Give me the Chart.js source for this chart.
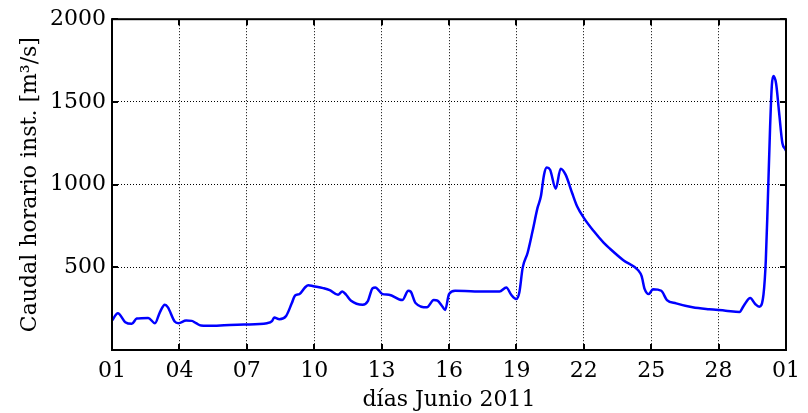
<!DOCTYPE html>
<html>
<head>
<meta charset="utf-8">
<title>Caudal horario instantáneo – Junio 2011</title>
<script src="https://cdn.jsdelivr.net/npm/chart.js@4.4.1/dist/chart.umd.min.js"></script>
<style>
  html, body { margin: 0; padding: 0; background: #fff; }
  #wrap { width: 808px; height: 413px; }
  canvas { display: block; }
</style>
</head>
<body>
<div id="wrap"><canvas id="chart" width="808" height="413"></canvas></div>
<script>
// Time in days since 1 June 2011 00:00, and instantaneous hourly flow (m3/s)
const days = [
  0.00, 0.26, 0.59, 0.88, 1.10, 1.61, 1.91, 2.13, 2.35, 2.49,
  2.79, 2.96, 3.30, 3.55, 3.74, 3.96, 4.55, 4.99, 5.87, 6.90,
  7.12, 7.22, 7.45, 7.75, 8.00, 8.15, 8.34, 8.59, 8.74, 8.96,
  9.40, 9.69, 10.06, 10.25, 10.42, 10.64, 11.16, 11.38, 11.60, 11.72,
  12.04, 12.33, 12.92, 13.19, 13.29, 13.51, 14.02, 14.32, 14.49, 14.68,
  14.83, 15.00, 15.27, 16.15, 17.25, 17.55, 17.77, 17.99, 18.13, 18.28,
  18.50, 18.72, 18.94, 19.09, 19.23, 19.35, 19.50, 19.75, 19.97, 20.19,
  20.48, 20.70, 21.00, 21.44, 21.88, 22.17, 22.76, 23.42, 23.57, 23.71,
  23.89, 24.08, 24.45, 24.70, 25.11, 25.84, 26.58, 27.31, 27.93, 28.12,
  28.41, 28.63, 28.81, 29.00, 29.10, 29.19, 29.29, 29.37, 29.44, 29.56,
  29.69, 29.84, 29.96, 30.00
];
const flows = [
  178, 222, 168, 158, 190, 194, 162, 228, 274, 258,
  172, 162, 178, 176, 162, 148, 146, 150, 154, 162,
  174, 196, 186, 206, 282, 330, 338, 378, 392, 386,
  374, 362, 334, 354, 334, 298, 274, 294, 374, 378,
  338, 334, 302, 358, 354, 284, 258, 302, 298, 268,
  242, 338, 358, 354, 354, 378, 334, 308, 348, 498,
  588, 719, 859, 929, 1060, 1103, 1090, 975, 1096, 1060,
  949, 869, 799, 719, 649, 612, 543, 482, 448, 368,
  338, 368, 358, 302, 282, 258, 246, 238, 230, 268,
  314, 278, 262, 338, 538, 899, 1340, 1600, 1656, 1610,
  1440, 1250, 1216, 1205
];

// Axis ticks: every third day, and flow in steps of 500
const xTickDays = [0, 3, 6, 9, 12, 15, 18, 21, 24, 27, 30];
const xTickLabels = ['01', '04', '07', '10', '13', '16', '19', '22', '25', '28', '01'];
const yTickValues = [0, 500, 1000, 1500, 2000];

const FONT = { family: "'DejaVu Serif', serif", size: 22 };

// White page background
const bgPlugin = {
  id: 'bg',
  beforeDraw(chart) {
    const ctx = chart.ctx;
    ctx.save();
    ctx.fillStyle = '#fff';
    ctx.fillRect(0, 0, chart.width, chart.height);
    ctx.restore();
  }
};

// Closed axes box with inward tick marks on all four sides
const boxPlugin = {
  id: 'box',
  afterDatasetsDraw(chart) {
    const { ctx, chartArea: a, scales } = chart;
    const len = 6;
    ctx.save();
    ctx.strokeStyle = '#000';
    ctx.lineWidth = 2;
    ctx.beginPath();
    xTickDays.forEach(v => {
      const x = Math.round(scales.x.getPixelForValue(v));
      ctx.moveTo(x, a.bottom); ctx.lineTo(x, a.bottom - len);
      ctx.moveTo(x, a.top); ctx.lineTo(x, a.top + len);
    });
    yTickValues.forEach(v => {
      const y = Math.round(scales.y.getPixelForValue(v));
      ctx.moveTo(a.left, y); ctx.lineTo(a.left + len, y);
      ctx.moveTo(a.right, y); ctx.lineTo(a.right - len, y);
    });
    ctx.stroke();
    ctx.strokeRect(a.left, a.top, a.right - a.left, a.bottom - a.top);
    ctx.restore();
  }
};

new Chart(document.getElementById('chart'), {
  type: 'line',
  data: {
    datasets: [{
      data: days.map((d, i) => ({ x: d, y: flows[i] })),
      borderColor: '#0000ff',
      borderWidth: 2.5,
      pointRadius: 0,
      fill: false,
      cubicInterpolationMode: 'monotone'
    }]
  },
  options: {
    responsive: false,
    animation: false,
    devicePixelRatio: 1,
    layout: { padding: { left: 0, right: 15, top: 17, bottom: 0 } },
    plugins: { legend: { display: false }, tooltip: { enabled: false } },
    scales: {
      x: {
        type: 'linear',
        min: 0,
        max: 30,
        afterBuildTicks(scale) { scale.ticks = xTickDays.map(v => ({ value: v })); },
        afterFit(scale) { scale.height = 63; },
        grid: { color: '#000', lineWidth: 1, drawTicks: false },
        border: { display: false, dash: [1, 2] },
        ticks: {
          autoSkip: false, maxRotation: 0, padding: 8, color: '#000', font: FONT,
          callback: (v, i) => xTickLabels[i]
        },
        title: {
          display: true, text: 'días Junio 2011', color: '#000', font: FONT,
          padding: { top: 5, bottom: 0 }
        }
      },
      y: {
        min: 0,
        max: 2000,
        afterBuildTicks(scale) { scale.ticks = yTickValues.map(v => ({ value: v })); },
        afterFit(scale) { scale.width = 112; },
        grid: { color: '#000', lineWidth: 1, drawTicks: false },
        border: { display: false, dash: [1, 2] },
        ticks: {
          padding: 6, color: '#000', font: FONT,
          callback: v => (v === 0 ? '' : String(v))
        },
        title: {
          display: true, text: 'Caudal horario inst. [m³/s]', color: '#000', font: FONT,
          padding: { top: 17, bottom: 0 }
        }
      }
    }
  },
  plugins: [bgPlugin, boxPlugin]
});
</script>
</body>
</html>
